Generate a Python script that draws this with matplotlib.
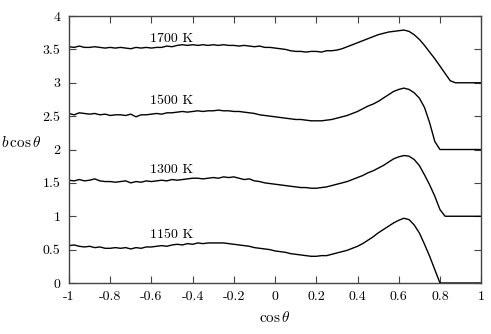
import matplotlib
matplotlib.use("Agg")
import matplotlib.pyplot as plt
import numpy as np

plt.rcParams['font.family'] = 'serif'
plt.rcParams['font.serif'] = ['cmr10']
plt.rcParams['mathtext.fontset'] = 'cm'
plt.rcParams['axes.unicode_minus'] = False

# shared cos(theta) grid, step 0.025 from -1 to 1
cos_theta = np.linspace(-1, 1, 81)

b_1150 = [0.56, 0.57, 0.55, 0.54, 0.55, 0.53, 0.54, 0.52, 0.52, 0.53, 0.52, 0.53, 0.51,
          0.53, 0.52, 0.54, 0.54, 0.55, 0.56, 0.55, 0.57, 0.58, 0.57, 0.59, 0.58, 0.60,
          0.59, 0.60, 0.60, 0.60, 0.60, 0.59, 0.58, 0.57, 0.56, 0.55, 0.53, 0.52, 0.51,
          0.50, 0.48, 0.47, 0.46, 0.44, 0.43, 0.42, 0.41, 0.40, 0.40, 0.41, 0.41, 0.43,
          0.45, 0.47, 0.49, 0.52, 0.55, 0.59, 0.64, 0.69, 0.75, 0.80, 0.85, 0.90, 0.94,
          0.97, 0.95, 0.87, 0.75, 0.58, 0.40, 0.20, 0.00,
          0, 0, 0, 0, 0, 0, 0, 0]

b_1300 = [1.54, 1.53, 1.55, 1.53, 1.54, 1.56, 1.53, 1.52, 1.52, 1.51, 1.52, 1.53, 1.50,
          1.52, 1.51, 1.53, 1.52, 1.53, 1.54, 1.53, 1.55, 1.54, 1.55, 1.56, 1.57, 1.57,
          1.56, 1.57, 1.58, 1.57, 1.59, 1.58, 1.59, 1.57, 1.55, 1.56, 1.53, 1.52, 1.50,
          1.49, 1.48, 1.47, 1.46, 1.45, 1.44, 1.43, 1.43, 1.42, 1.42, 1.43, 1.44, 1.46,
          1.48, 1.50, 1.52, 1.55, 1.58, 1.61, 1.65, 1.68, 1.72, 1.76, 1.81, 1.86, 1.89,
          1.91, 1.90, 1.85, 1.76, 1.62, 1.47, 1.30, 1.10, 1.00,
          1, 1, 1, 1, 1, 1, 1]

b_1500 = [2.54, 2.52, 2.55, 2.54, 2.53, 2.54, 2.52, 2.53, 2.51, 2.52, 2.52, 2.51, 2.53,
          2.49, 2.52, 2.52, 2.53, 2.54, 2.53, 2.55, 2.55, 2.56, 2.57, 2.56, 2.57, 2.58,
          2.57, 2.58, 2.58, 2.59, 2.58, 2.58, 2.57, 2.57, 2.56, 2.55, 2.54, 2.52, 2.51,
          2.50, 2.49, 2.48, 2.47, 2.46, 2.45, 2.45, 2.44, 2.43, 2.43, 2.43, 2.44, 2.45,
          2.47, 2.49, 2.51, 2.54, 2.57, 2.61, 2.65, 2.68, 2.72, 2.77, 2.82, 2.87, 2.90,
          2.92, 2.90, 2.85, 2.77, 2.63, 2.40, 2.12, 2.00,
          2, 2, 2, 2, 2, 2, 2, 2]

b_1700 = [3.54, 3.53, 3.55, 3.53, 3.53, 3.54, 3.53, 3.52, 3.53, 3.52, 3.53, 3.52, 3.51,
          3.53, 3.52, 3.53, 3.52, 3.53, 3.53, 3.55, 3.54, 3.56, 3.57, 3.56, 3.57, 3.56,
          3.57, 3.56, 3.57, 3.56, 3.57, 3.56, 3.56, 3.55, 3.56, 3.55, 3.54, 3.55, 3.53,
          3.53, 3.52, 3.51, 3.50, 3.48, 3.47, 3.47, 3.46, 3.47, 3.47, 3.46, 3.48, 3.48,
          3.49, 3.51, 3.54, 3.57, 3.60, 3.63, 3.66, 3.69, 3.72, 3.74, 3.76, 3.77, 3.78,
          3.79, 3.77, 3.72, 3.65, 3.56, 3.46, 3.36, 3.25, 3.14, 3.03, 3.00,
          3, 3, 3, 3, 3]

series = [b_1150, b_1300, b_1500, b_1700]
labels = ['1150 K', '1300 K', '1500 K', '1700 K']
label_y = [0.72, 1.69, 2.73, 3.66]

x_ticks = [-1, -0.8, -0.6, -0.4, -0.2, 0, 0.2, 0.4, 0.6, 0.8, 1]
x_tick_labels = ['-1', '-0.8', '-0.6', '-0.4', '-0.2', '0', '0.2', '0.4', '0.6', '0.8', '1']
y_ticks = [0, 0.5, 1, 1.5, 2, 2.5, 3, 3.5, 4]
y_tick_labels = ['0', '0.5', '1', '1.5', '2', '2.5', '3', '3.5', '4']

fig = plt.figure(figsize=(4.91, 3.34), dpi=100)
ax = fig.add_axes([0.1405, 0.1527, 0.8395, 0.7993])

for vals, lab, ly in zip(series, labels, label_y):
    ax.plot(cos_theta, vals, color='black', lw=1.0)
    ax.text(-0.5, ly, lab, ha='center', va='center', fontsize=10)

ax.set_xlim(-1, 1)
ax.set_ylim(0, 4)
ax.set_xticks(x_ticks)
ax.set_xticklabels(x_tick_labels)
ax.set_yticks(y_ticks)
ax.set_yticklabels(y_tick_labels)
ax.tick_params(direction='in', top=True, right=True, length=5, labelsize=10,
               color='#444444', pad=6)
for s in ax.spines.values():
    s.set_color('#444444')
    s.set_linewidth(1.0)

ax.set_xlabel(r'$\cos\theta$', fontsize=11, labelpad=5)
ax.set_ylabel(r'$b\,\cos\theta$', fontsize=11, rotation=0)
ax.yaxis.set_label_coords(-0.115, 0.5)

fig.savefig('out.png', dpi=100)
